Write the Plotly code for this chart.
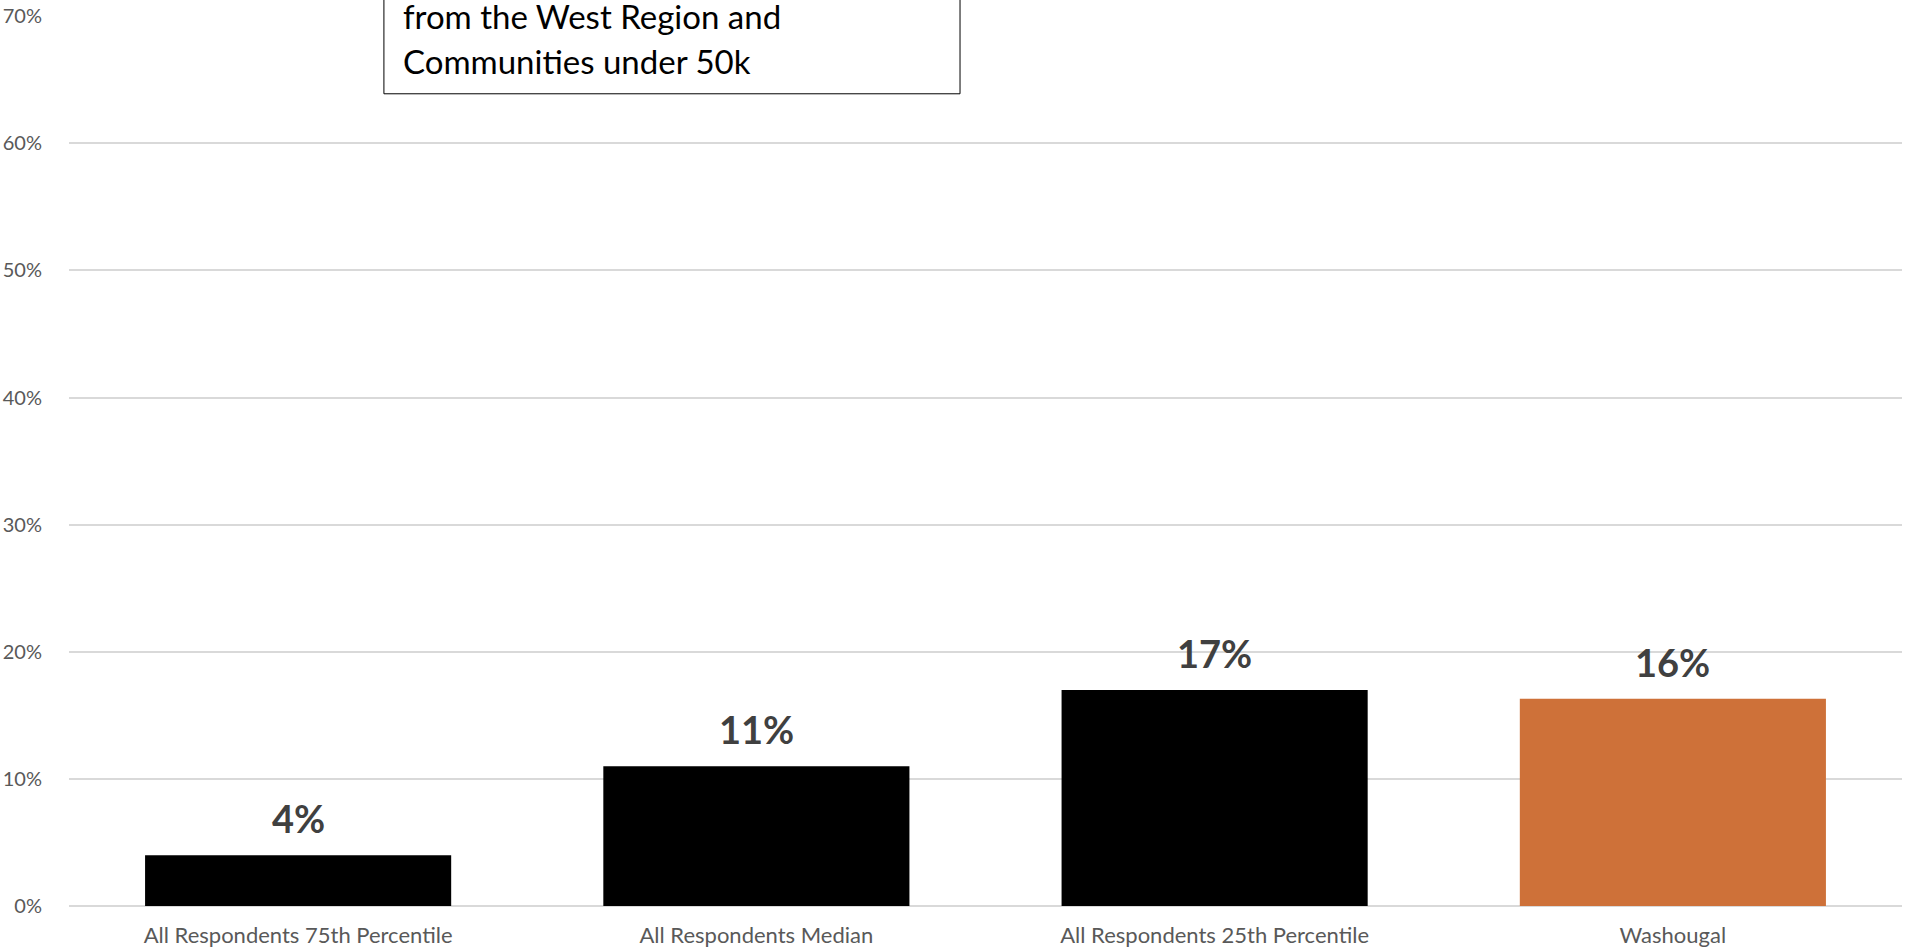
import plotly.graph_objects as go

categories = ["All Respondents 75th Percentile", "All Respondents Median",
              "All Respondents 25th Percentile", "Washougal"]
values = [0.04, 0.11, 0.17, 0.163]
bar_colors = ["#000000", "#000000", "#000000", "#CE7139"]
value_labels = ["4%", "11%", "17%", "16%"]
box_lines = ["from the West Region and", "Communities under 50k"]

fig = go.Figure()
fig.add_trace(go.Bar(
    x=categories, y=values, marker=dict(color=bar_colors, line=dict(width=0)),
    showlegend=False, hoverinfo="x+y",
))

for c, v, t in zip(categories, values, value_labels):
    fig.add_annotation(x=c, y=v, text=f"<b>{t}</b>", showarrow=False,
                       yanchor="middle", yshift=37,
                       font=dict(family="Lato", size=38, color="#404040"))

# text box (top clipped by page edge)
fig.add_shape(type="rect", xref="paper", yref="paper",
              x0=0.1718, x1=0.4861, y0=0.9126, y1=1.2,
              line=dict(color="#000000", width=1), fillcolor="#ffffff", layer="above")
for line, yp in zip(box_lines, [1.0005, 0.9500]):
    fig.add_annotation(xref="paper", yref="paper", x=0.1810, y=yp, text=line,
                       showarrow=False, xanchor="left", yanchor="middle",
                       font=dict(family="Lato", size=33, color="#000000"))

fig.update_layout(
    width=1905, height=950,
    margin=dict(l=69, r=3, t=16, b=44),
    paper_bgcolor="#ffffff", plot_bgcolor="#ffffff",
    bargap=0.332,
    font=dict(family="Lato", color="#595959"),
    xaxis=dict(type="category", showgrid=False, zeroline=False, showline=False,
               tickfont=dict(family="Lato", size=22, color="#595959"),
               ticks="", ticklabelstandoff=14),
    yaxis=dict(range=[0, 0.7001], dtick=0.1, tickformat=".0%",
               showgrid=True, gridcolor="#d9d9d9", gridwidth=1.5,
               zeroline=True, zerolinecolor="#d9d9d9", zerolinewidth=1.5,
               showline=False, ticks="",
               tickfont=dict(family="Lato", size=20, color="#595959"),
               ticklabelstandoff=26),
)

fig.write_html("out.html")
